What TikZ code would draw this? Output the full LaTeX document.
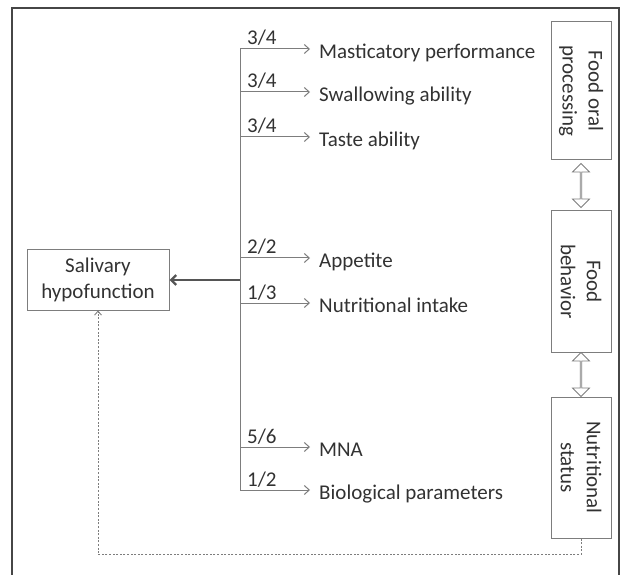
\documentclass[tikz,border=0pt]{standalone}
\usepackage{fontspec}
\setmainfont{Carlito}
\usetikzlibrary{arrows.meta,shapes.arrows,calc}
\definecolor{linegray}{RGB}{125,125,125}
\definecolor{darkline}{RGB}{85,85,85}
\definecolor{textgray}{RGB}{50,50,50}
\definecolor{framegray}{RGB}{70,70,70}

\begin{document}
\begin{tikzpicture}[x=1pt,y=-1pt,
    every node/.style={text=textgray,font=\fontsize{21}{26}\selectfont},
    box/.style={draw=linegray,line width=1pt,align=center,inner sep=0pt},
    vbox/.style={box,rotate=-90,minimum height=60},
    branch/.style={draw=linegray,line width=1pt,-{Straight Barb[length=5pt,width=9pt]}},
    mainarrow/.style={draw=darkline,line width=2.4pt,-{Straight Barb[length=5pt,width=10pt]}},
    dotline/.style={draw=linegray,line width=0.9pt,dash pattern=on 2pt off 1.6pt,-{Straight Barb[length=4pt,width=7pt]}},
    dblarrow/.style={double arrow,draw=linegray,line width=0.8pt,rotate=90,minimum height=44,
        minimum width=17,double arrow head extend=4.5,inner sep=0pt,double arrow tip angle=90}
  ]
  \useasboundingbox (0,0) rectangle (622,575);
  % outer frame
  \draw[framegray,line width=1.5pt] (12,580) -- (12,8) -- (619,8) -- (619,580);

  % left box
  \node[box,minimum width=142,minimum height=60] (sal) at (98,280) {Salivary\\hypofunction};
  \coordinate (hub) at (240,280);

  % branches
  \foreach \yy/\frc/\txt/\nm in {49/{3/4}/{Masticatory performance}/mast,
                                  92/{3/4}/{Swallowing ability}/swal,
                                  137/{3/4}/{Taste ability}/taste,
                                  258/{2/2}/{Appetite}/app,
                                  303/{1/3}/{Nutritional intake}/nutr,
                                  447/{5/6}/{MNA}/mna,
                                  490/{1/2}/{Biological parameters}/bio}{
    \coordinate (b\nm) at (240,\yy);
    \node[anchor=base west,inner sep=0pt] (f\nm) at (247,\yy-4) {\frc};
    \node[anchor=base west,inner ysep=0pt,inner xsep=9pt] (\nm) at (310,\yy+9.5) {\txt};
    \draw[branch] (b\nm) -- (b\nm -| \nm.west);
  }
  \draw[linegray,line width=1pt] (bmast) -- (bbio);
  \draw[mainarrow] (hub) -- (sal.east);

  % right column
  \node[vbox,minimum width=138] (fop) at (581,91) {Food oral\\processing};
  \node[vbox,minimum width=141] (fb) at (581,281.5) {Food\\behavior};
  \node[vbox,minimum width=141] (ns) at (581,467.5) {Nutritional\\status};
  \node[dblarrow] (d1) at ($(fop.east)!0.5!(fb.west)$) {};
  \node[dblarrow] (d2) at ($(fb.east)!0.5!(ns.west)$) {};

  % feedback
  \draw[dotline] (ns.east) -- ++(0,16) -| (sal.south);
\end{tikzpicture}
\end{document}
